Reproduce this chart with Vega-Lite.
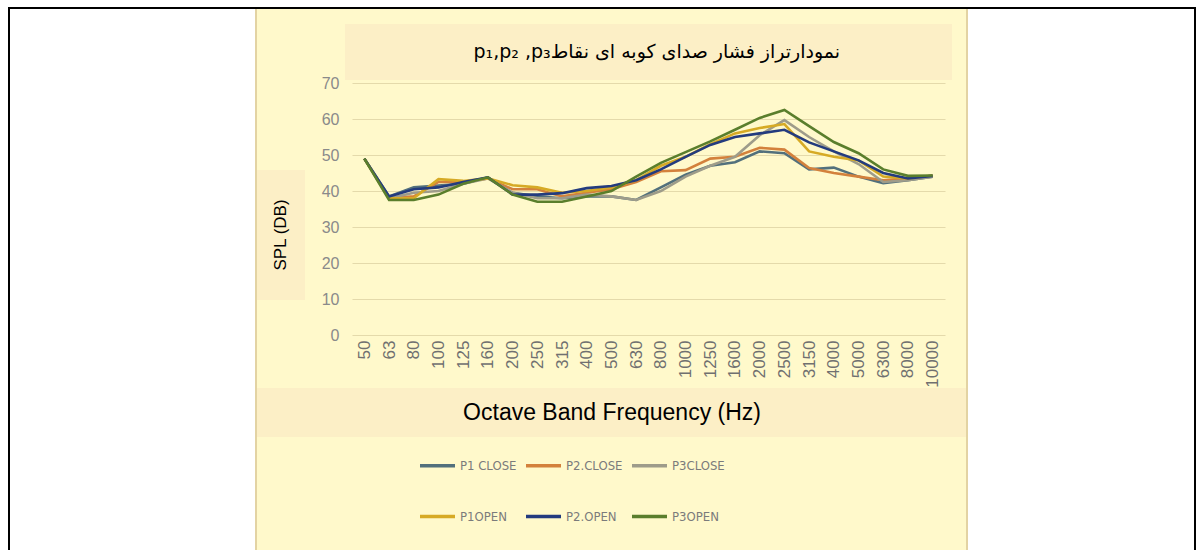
{
  "$schema": "https://vega.github.io/schema/vega-lite/v6.json",
  "background": "#FFF9CB",
  "padding": 0,
  "config": {"view": {"stroke": null}, "font": "Liberation Sans"},
  "datasets": {
    "spl": [
      {"f":"50","s":"P1 CLOSE","v":49},{"f":"63","s":"P1 CLOSE","v":38.5},{"f":"80","s":"P1 CLOSE","v":41},{"f":"100","s":"P1 CLOSE","v":41.5},{"f":"125","s":"P1 CLOSE","v":42},{"f":"160","s":"P1 CLOSE","v":43.8},{"f":"200","s":"P1 CLOSE","v":39.5},{"f":"250","s":"P1 CLOSE","v":38.5},{"f":"315","s":"P1 CLOSE","v":38},{"f":"400","s":"P1 CLOSE","v":38.5},{"f":"500","s":"P1 CLOSE","v":38.5},{"f":"630","s":"P1 CLOSE","v":37.5},{"f":"800","s":"P1 CLOSE","v":41},{"f":"1000","s":"P1 CLOSE","v":44.5},{"f":"1250","s":"P1 CLOSE","v":47},{"f":"1600","s":"P1 CLOSE","v":48},{"f":"2000","s":"P1 CLOSE","v":51},{"f":"2500","s":"P1 CLOSE","v":50.5},{"f":"3150","s":"P1 CLOSE","v":46},{"f":"4000","s":"P1 CLOSE","v":46.5},{"f":"5000","s":"P1 CLOSE","v":44},{"f":"6300","s":"P1 CLOSE","v":42.2},{"f":"8000","s":"P1 CLOSE","v":43},{"f":"10000","s":"P1 CLOSE","v":44},
      {"f":"50","s":"P2.CLOSE","v":49},{"f":"63","s":"P2.CLOSE","v":38},{"f":"80","s":"P2.CLOSE","v":38.5},{"f":"100","s":"P2.CLOSE","v":42.5},{"f":"125","s":"P2.CLOSE","v":42.5},{"f":"160","s":"P2.CLOSE","v":43.5},{"f":"200","s":"P2.CLOSE","v":40.5},{"f":"250","s":"P2.CLOSE","v":40.5},{"f":"315","s":"P2.CLOSE","v":38.5},{"f":"400","s":"P2.CLOSE","v":39.5},{"f":"500","s":"P2.CLOSE","v":40.5},{"f":"630","s":"P2.CLOSE","v":42.5},{"f":"800","s":"P2.CLOSE","v":45.5},{"f":"1000","s":"P2.CLOSE","v":45.8},{"f":"1250","s":"P2.CLOSE","v":49},{"f":"1600","s":"P2.CLOSE","v":49.5},{"f":"2000","s":"P2.CLOSE","v":52},{"f":"2500","s":"P2.CLOSE","v":51.5},{"f":"3150","s":"P2.CLOSE","v":46.4},{"f":"4000","s":"P2.CLOSE","v":45},{"f":"5000","s":"P2.CLOSE","v":44},{"f":"6300","s":"P2.CLOSE","v":43},{"f":"8000","s":"P2.CLOSE","v":43.5},{"f":"10000","s":"P2.CLOSE","v":44.2},
      {"f":"50","s":"P3CLOSE","v":49},{"f":"63","s":"P3CLOSE","v":38},{"f":"80","s":"P3CLOSE","v":39.5},{"f":"100","s":"P3CLOSE","v":40},{"f":"125","s":"P3CLOSE","v":42},{"f":"160","s":"P3CLOSE","v":43.5},{"f":"200","s":"P3CLOSE","v":39.5},{"f":"250","s":"P3CLOSE","v":38},{"f":"315","s":"P3CLOSE","v":38},{"f":"400","s":"P3CLOSE","v":39},{"f":"500","s":"P3CLOSE","v":38.5},{"f":"630","s":"P3CLOSE","v":37.5},{"f":"800","s":"P3CLOSE","v":40},{"f":"1000","s":"P3CLOSE","v":44},{"f":"1250","s":"P3CLOSE","v":47},{"f":"1600","s":"P3CLOSE","v":49.5},{"f":"2000","s":"P3CLOSE","v":55.5},{"f":"2500","s":"P3CLOSE","v":59.7},{"f":"3150","s":"P3CLOSE","v":55},{"f":"4000","s":"P3CLOSE","v":51},{"f":"5000","s":"P3CLOSE","v":47.5},{"f":"6300","s":"P3CLOSE","v":42.5},{"f":"8000","s":"P3CLOSE","v":43},{"f":"10000","s":"P3CLOSE","v":44},
      {"f":"50","s":"P1OPEN","v":49},{"f":"63","s":"P1OPEN","v":38},{"f":"80","s":"P1OPEN","v":38},{"f":"100","s":"P1OPEN","v":43.3},{"f":"125","s":"P1OPEN","v":42.8},{"f":"160","s":"P1OPEN","v":43.5},{"f":"200","s":"P1OPEN","v":41.6},{"f":"250","s":"P1OPEN","v":41},{"f":"315","s":"P1OPEN","v":39.5},{"f":"400","s":"P1OPEN","v":40},{"f":"500","s":"P1OPEN","v":41},{"f":"630","s":"P1OPEN","v":43},{"f":"800","s":"P1OPEN","v":47},{"f":"1000","s":"P1OPEN","v":49.5},{"f":"1250","s":"P1OPEN","v":53},{"f":"1600","s":"P1OPEN","v":56},{"f":"2000","s":"P1OPEN","v":57.5},{"f":"2500","s":"P1OPEN","v":58.6},{"f":"3150","s":"P1OPEN","v":51},{"f":"4000","s":"P1OPEN","v":49.5},{"f":"5000","s":"P1OPEN","v":48.5},{"f":"6300","s":"P1OPEN","v":44},{"f":"8000","s":"P1OPEN","v":43.5},{"f":"10000","s":"P1OPEN","v":44.3},
      {"f":"50","s":"P2.OPEN","v":49},{"f":"63","s":"P2.OPEN","v":38.5},{"f":"80","s":"P2.OPEN","v":40.5},{"f":"100","s":"P2.OPEN","v":41},{"f":"125","s":"P2.OPEN","v":42.5},{"f":"160","s":"P2.OPEN","v":43.8},{"f":"200","s":"P2.OPEN","v":39},{"f":"250","s":"P2.OPEN","v":39},{"f":"315","s":"P2.OPEN","v":39.4},{"f":"400","s":"P2.OPEN","v":40.8},{"f":"500","s":"P2.OPEN","v":41.4},{"f":"630","s":"P2.OPEN","v":43},{"f":"800","s":"P2.OPEN","v":46},{"f":"1000","s":"P2.OPEN","v":49.5},{"f":"1250","s":"P2.OPEN","v":52.8},{"f":"1600","s":"P2.OPEN","v":55},{"f":"2000","s":"P2.OPEN","v":56},{"f":"2500","s":"P2.OPEN","v":57},{"f":"3150","s":"P2.OPEN","v":53.5},{"f":"4000","s":"P2.OPEN","v":51},{"f":"5000","s":"P2.OPEN","v":48.5},{"f":"6300","s":"P2.OPEN","v":45},{"f":"8000","s":"P2.OPEN","v":43.5},{"f":"10000","s":"P2.OPEN","v":44.2},
      {"f":"50","s":"P3OPEN","v":49},{"f":"63","s":"P3OPEN","v":37.5},{"f":"80","s":"P3OPEN","v":37.5},{"f":"100","s":"P3OPEN","v":39},{"f":"125","s":"P3OPEN","v":42},{"f":"160","s":"P3OPEN","v":43.8},{"f":"200","s":"P3OPEN","v":39},{"f":"250","s":"P3OPEN","v":37},{"f":"315","s":"P3OPEN","v":37},{"f":"400","s":"P3OPEN","v":38.5},{"f":"500","s":"P3OPEN","v":40},{"f":"630","s":"P3OPEN","v":44},{"f":"800","s":"P3OPEN","v":47.8},{"f":"1000","s":"P3OPEN","v":50.8},{"f":"1250","s":"P3OPEN","v":53.8},{"f":"1600","s":"P3OPEN","v":57},{"f":"2000","s":"P3OPEN","v":60.3},{"f":"2500","s":"P3OPEN","v":62.5},{"f":"3150","s":"P3OPEN","v":58},{"f":"4000","s":"P3OPEN","v":53.6},{"f":"5000","s":"P3OPEN","v":50.5},{"f":"6300","s":"P3OPEN","v":46},{"f":"8000","s":"P3OPEN","v":44.2},{"f":"10000","s":"P3OPEN","v":44.3}
    ]
  },
  "spacing": 0,
  "hconcat": [
    {"width": 8, "height": 550, "view": {"fill": "#ffffff"}, "data": {"values": []}, "mark": "point"},
    {"spacing": 0, "bounds": "flush", "vconcat": [
      {"width": 2, "height": 7, "view": {"fill": "#ffffff"}, "data": {"values": []}, "mark": "point"},
      {"width": 2, "height": 543, "view": {"fill": "#000000"}, "data": {"values": []}, "mark": "point"}
    ]},
    {"spacing": 0, "bounds": "flush", "vconcat": [
      {"width": 245, "height": 7, "view": {"fill": "#ffffff"}, "data": {"values": []}, "mark": "point"},
      {"width": 245, "height": 2, "view": {"fill": "#000000"}, "data": {"values": []}, "mark": "point"},
      {"width": 245, "height": 541, "view": {"fill": "#ffffff"}, "data": {"values": []}, "mark": "point"}
    ]},
    {"spacing": 0, "bounds": "flush", "vconcat": [
      {"width": 2, "height": 7, "view": {"fill": "#ffffff"}, "data": {"values": []}, "mark": "point"},
      {"width": 2, "height": 2, "view": {"fill": "#000000"}, "data": {"values": []}, "mark": "point"},
      {"width": 2, "height": 541, "view": {"fill": "#E3D3A3"}, "data": {"values": []}, "mark": "point"}
    ]},
    {"spacing": 0, "bounds": "flush", "vconcat": [
      {"width": 48, "height": 7, "view": {"fill": "#ffffff"}, "data": {"values": []}, "mark": "point"},
      {"width": 48, "height": 2, "view": {"fill": "#000000"}, "data": {"values": []}, "mark": "point"},
      {"width": 48, "height": 161, "data": {"values": []}, "mark": "point"},
      {"width": 48, "height": 130, "view": {"fill": "#FCEFC6"},
       "data": {"values": [{"t": "SPL (DB)"}]},
       "mark": {"type": "text", "font": "Liberation Sans", "fontSize": 17, "angle": 270, "color": "#000000", "align": "center", "baseline": "middle"},
       "encoding": {"text": {"field": "t"}, "x": {"field": "t", "type": "nominal", "axis": null}, "y": {"field": "t", "type": "nominal", "axis": null}}},
      {"width": 48, "height": 88, "data": {"values": []}, "mark": "point"},
      {"width": 48, "height": 49, "view": {"fill": "#FCEFC6"}, "data": {"values": []}, "mark": "point"},
      {"width": 48, "height": 113, "data": {"values": []}, "mark": "point"}
    ]},
    {"spacing": 0, "bounds": "flush", "vconcat": [
      {"width": 40, "height": 7, "view": {"fill": "#ffffff"}, "data": {"values": []}, "mark": "point"},
      {"width": 40, "height": 2, "view": {"fill": "#000000"}, "data": {"values": []}, "mark": "point"},
      {"width": 40, "height": 74, "data": {"values": []}, "mark": "point"},
      {"width": 40, "height": 252, "data": {"name": "spl"}, "mark": {"type": "point", "opacity": 0},
       "encoding": {"y": {"field": "v", "type": "quantitative", "scale": {"domain": [0, 70]},
         "axis": {"orient": "right", "title": null, "values": [0, 10, 20, 30, 40, 50, 60, 70], "ticks": false, "domain": false, "grid": false,
                  "labelAlign": "right", "labelPadding": -6, "labelFont": "Liberation Sans", "labelFontSize": 16, "labelColor": "#8a8a8a"}}}},
      {"width": 40, "height": 53, "data": {"values": []}, "mark": "point"},
      {"width": 40, "height": 49, "view": {"fill": "#FCEFC6"}, "data": {"values": []}, "mark": "point"},
      {"width": 40, "height": 113, "data": {"values": []}, "mark": "point"}
    ]},
    {"spacing": 0, "bounds": "flush", "vconcat": [
      {"width": 7, "height": 7, "view": {"fill": "#ffffff"}, "data": {"values": []}, "mark": "point"},
      {"width": 7, "height": 2, "view": {"fill": "#000000"}, "data": {"values": []}, "mark": "point"},
      {"width": 7, "height": 15, "data": {"values": []}, "mark": "point"},
      {"width": 7, "height": 56, "view": {"fill": "#FCEFC6"}, "data": {"values": []}, "mark": "point"},
      {"width": 7, "height": 308, "data": {"values": []}, "mark": "point"},
      {"width": 7, "height": 49, "view": {"fill": "#FCEFC6"}, "data": {"values": []}, "mark": "point"},
      {"width": 7, "height": 113, "data": {"values": []}, "mark": "point"}
    ]},
    {"spacing": 0, "bounds": "flush", "vconcat": [
      {"width": 593, "height": 7, "view": {"fill": "#ffffff"}, "data": {"values": []}, "mark": "point"},
      {"width": 593, "height": 2, "view": {"fill": "#000000"}, "data": {"values": []}, "mark": "point"},
      {"width": 593, "height": 15, "data": {"values": []}, "mark": "point"},
      {"width": 593, "height": 56, "view": {"fill": "#FCEFC6"},
       "data": {"values": [{"t": "p₁,p₂ ,p₃نمودارتراز فشار صدای کوبه ای نقاط"}]},
       "mark": {"type": "text", "font": "DejaVu Sans", "fontSize": 19, "color": "#000000", "align": "center", "baseline": "middle"},
       "encoding": {"text": {"field": "t"}, "x": {"field": "t", "type": "nominal", "axis": null, "scale": {"align": 0.514}}, "y": {"field": "t", "type": "nominal", "axis": null}}},
      {"width": 593, "height": 3, "data": {"values": []}, "mark": "point"},
      {
        "width": 593, "height": 252,
        "data": {"name": "spl"},
        "mark": {"type": "line", "strokeWidth": 2.6},
        "encoding": {
          "x": {"field": "f", "type": "ordinal", "sort": null,
            "axis": {"title": null, "labelAngle": -90, "labelPadding": 5, "ticks": false, "domain": false, "grid": false,
                     "labelFont": "Liberation Sans", "labelFontSize": 17, "labelColor": "#707070"}},
          "y": {"field": "v", "type": "quantitative", "scale": {"domain": [0, 70]},
            "axis": {"title": null, "values": [0, 10, 20, 30, 40, 50, 60, 70], "ticks": false, "domain": false, "labels": false, "grid": true,
                     "gridColor": "#E4DAAB", "gridWidth": 1.2}},
          "color": {"field": "s", "type": "nominal",
            "scale": {"domain": ["P1 CLOSE", "P1OPEN", "P2.CLOSE", "P2.OPEN", "P3CLOSE", "P3OPEN"],
                      "range": ["#52707c", "#D6AA25", "#D3813C", "#233B7E", "#9E9C8A", "#5A7E2C"]},
            "legend": {"orient": "none", "legendX": 418, "legendY": 446, "columns": 3, "title": null,
                       "symbolType": "stroke", "symbolSize": 1225, "symbolStrokeWidth": 3.5,
                       "labelFont": "DejaVu Sans Condensed, Liberation Sans", "labelFontSize": 13, "labelColor": "#7b7b7b",
                       "columnPadding": 2, "rowPadding": 24, "labelOffset": 3, "padding": 0}}
        }
      },
      {"width": 593, "height": 53, "data": {"values": []}, "mark": "point"},
      {"width": 593, "height": 49, "view": {"fill": "#FCEFC6"},
       "data": {"values": [{"t": "Octave Band Frequency (Hz)"}]},
       "mark": {"type": "text", "font": "Liberation Sans", "fontSize": 23, "color": "#000000", "align": "center", "baseline": "middle"},
       "encoding": {"text": {"field": "t"}, "x": {"field": "t", "type": "nominal", "axis": null, "scale": {"align": 0.4385}}, "y": {"field": "t", "type": "nominal", "axis": null}}},
      {"width": 593, "height": 113, "data": {"values": []}, "mark": "point"}
    ]},
    {"spacing": 0, "bounds": "flush", "vconcat": [
      {"width": 7, "height": 7, "view": {"fill": "#ffffff"}, "data": {"values": []}, "mark": "point"},
      {"width": 7, "height": 2, "view": {"fill": "#000000"}, "data": {"values": []}, "mark": "point"},
      {"width": 7, "height": 15, "data": {"values": []}, "mark": "point"},
      {"width": 7, "height": 56, "view": {"fill": "#FCEFC6"}, "data": {"values": []}, "mark": "point"},
      {"width": 7, "height": 308, "data": {"values": []}, "mark": "point"},
      {"width": 7, "height": 49, "view": {"fill": "#FCEFC6"}, "data": {"values": []}, "mark": "point"},
      {"width": 7, "height": 113, "data": {"values": []}, "mark": "point"}
    ]},
    {"spacing": 0, "bounds": "flush", "vconcat": [
      {"width": 14, "height": 7, "view": {"fill": "#ffffff"}, "data": {"values": []}, "mark": "point"},
      {"width": 14, "height": 2, "view": {"fill": "#000000"}, "data": {"values": []}, "mark": "point"},
      {"width": 14, "height": 379, "data": {"values": []}, "mark": "point"},
      {"width": 14, "height": 49, "view": {"fill": "#FCEFC6"}, "data": {"values": []}, "mark": "point"},
      {"width": 14, "height": 113, "data": {"values": []}, "mark": "point"}
    ]},
    {"spacing": 0, "bounds": "flush", "vconcat": [
      {"width": 2, "height": 7, "view": {"fill": "#ffffff"}, "data": {"values": []}, "mark": "point"},
      {"width": 2, "height": 2, "view": {"fill": "#000000"}, "data": {"values": []}, "mark": "point"},
      {"width": 2, "height": 541, "view": {"fill": "#E3D3A3"}, "data": {"values": []}, "mark": "point"}
    ]},
    {"spacing": 0, "bounds": "flush", "vconcat": [
      {"width": 226, "height": 7, "view": {"fill": "#ffffff"}, "data": {"values": []}, "mark": "point"},
      {"width": 226, "height": 2, "view": {"fill": "#000000"}, "data": {"values": []}, "mark": "point"},
      {"width": 226, "height": 541, "view": {"fill": "#ffffff"}, "data": {"values": []}, "mark": "point"}
    ]},
    {"spacing": 0, "bounds": "flush", "vconcat": [
      {"width": 2, "height": 7, "view": {"fill": "#ffffff"}, "data": {"values": []}, "mark": "point"},
      {"width": 2, "height": 543, "view": {"fill": "#000000"}, "data": {"values": []}, "mark": "point"}
    ]},
    {"width": 8, "height": 550, "view": {"fill": "#ffffff"}, "data": {"values": []}, "mark": "point"}
  ]
}
